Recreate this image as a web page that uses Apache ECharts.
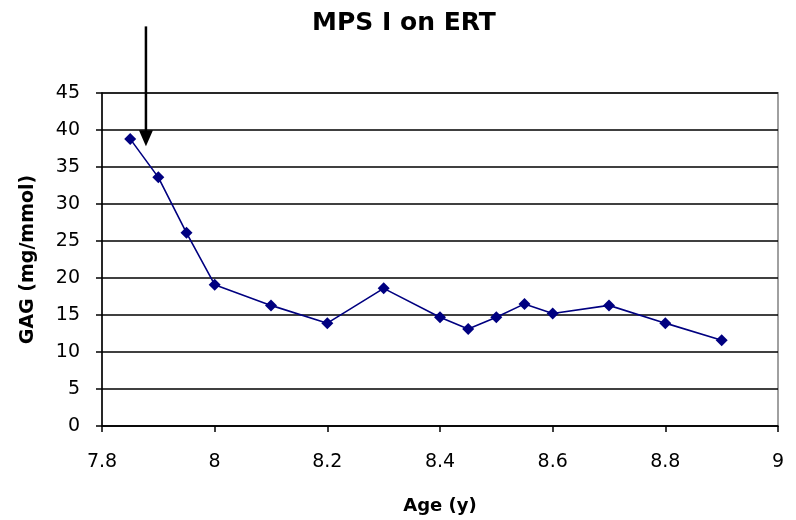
<!DOCTYPE html>
<html>
<head>
<meta charset="utf-8">
<script src="https://cdn.jsdelivr.net/npm/echarts@6/dist/echarts.min.js"></script>
<style>
  html, body { margin: 0; padding: 0; background: #fff; }
  #chart { width: 796px; height: 520px; }
</style>
</head>
<body>
<div id="chart"></div>
<script>
// Age (years) at each urinary GAG measurement
const ages = [7.85, 7.9, 7.95, 8.0, 8.1, 8.2, 8.3, 8.4, 8.45, 8.5, 8.55, 8.6, 8.7, 8.8, 8.9];
// GAG (mg/mmol creatinine)
const gag = [38.8, 33.6, 26.1, 19.1, 16.3, 13.9, 18.6, 14.7, 13.1, 14.7, 16.5, 15.2, 16.3, 13.9, 11.6];
// Start of enzyme replacement therapy: arrow position (age, from GAG level down to GAG level)
const ertStart = { age: 7.878, fromGag: 54, toGag: 37.8 };

const FONT = '"DejaVu Sans", Verdana, sans-serif';

const chart = echarts.init(document.getElementById('chart'), null, { renderer: 'canvas' });

chart.setOption({
  animation: false,
  backgroundColor: '#fff',
  title: {
    text: 'MPS I on ERT',
    left: 399,
    textAlign: 'center',
    top: 6,
    textStyle: { fontFamily: FONT, fontSize: 25, fontWeight: 'bold', color: '#000' }
  },
  grid: { left: 102, right: 18, top: 93, bottom: 94, show: true, borderColor: '#a0a0a0', borderWidth: 2, backgroundColor: '#fff' },
  xAxis: {
    type: 'value',
    min: 7.8, max: 9, interval: 0.2,
    name: 'Age (y)',
    nameLocation: 'middle',
    nameGap: 71,
    nameTextStyle: { fontFamily: FONT, fontSize: 18, fontWeight: 'bold', color: '#000' },
    axisLine: { onZero: false, lineStyle: { color: '#000', width: 1.5 } },
    axisTick: { show: true, length: 6, inside: false, lineStyle: { color: '#000', width: 1.5 } },
    axisLabel: {
      fontFamily: FONT, fontSize: 19, color: '#000', margin: 27,
      formatter: v => String(Math.round(v * 10) / 10)
    },
    splitLine: { show: false }
  },
  yAxis: {
    type: 'value',
    min: 0, max: 45, interval: 5,
    name: 'GAG (mg/mmol)',
    nameLocation: 'middle',
    nameGap: 64,
    nameTextStyle: { fontFamily: FONT, fontSize: 19, fontWeight: 'bold', color: '#000' },
    axisLine: { show: true, lineStyle: { color: '#000', width: 1.5 } },
    axisTick: { show: true, length: 6, lineStyle: { color: '#000', width: 1.5 } },
    axisLabel: { fontFamily: FONT, fontSize: 19, color: '#000', margin: 22 },
    splitLine: { show: true, lineStyle: { color: '#000', width: 1.5 } }
  },
  series: [{
    type: 'line',
    data: ages.map((a, i) => [a, gag[i]]),
    symbol: 'diamond',
    symbolSize: 12,
    itemStyle: { color: '#000080' },
    lineStyle: { color: '#000080', width: 1.6 },
    z: 5
  }]
});

// ERT start arrow, positioned in data coordinates
const arrowStart = chart.convertToPixel({ gridIndex: 0 }, [ertStart.age, ertStart.fromGag]);
const arrowTip = chart.convertToPixel({ gridIndex: 0 }, [ertStart.age, ertStart.toGag]);
const headLen = 16, headHalf = 7;
chart.setOption({
  graphic: [
    {
      type: 'line',
      shape: { x1: arrowStart[0], y1: arrowStart[1], x2: arrowTip[0], y2: arrowTip[1] - headLen + 1 },
      style: { stroke: '#000', lineWidth: 2.5 },
      z: 100
    },
    {
      type: 'polygon',
      shape: { points: [[arrowTip[0] - headHalf, arrowTip[1] - headLen], [arrowTip[0] + headHalf, arrowTip[1] - headLen], [arrowTip[0], arrowTip[1]]] },
      style: { fill: '#000' },
      z: 100
    }
  ]
});
</script>
</body>
</html>
